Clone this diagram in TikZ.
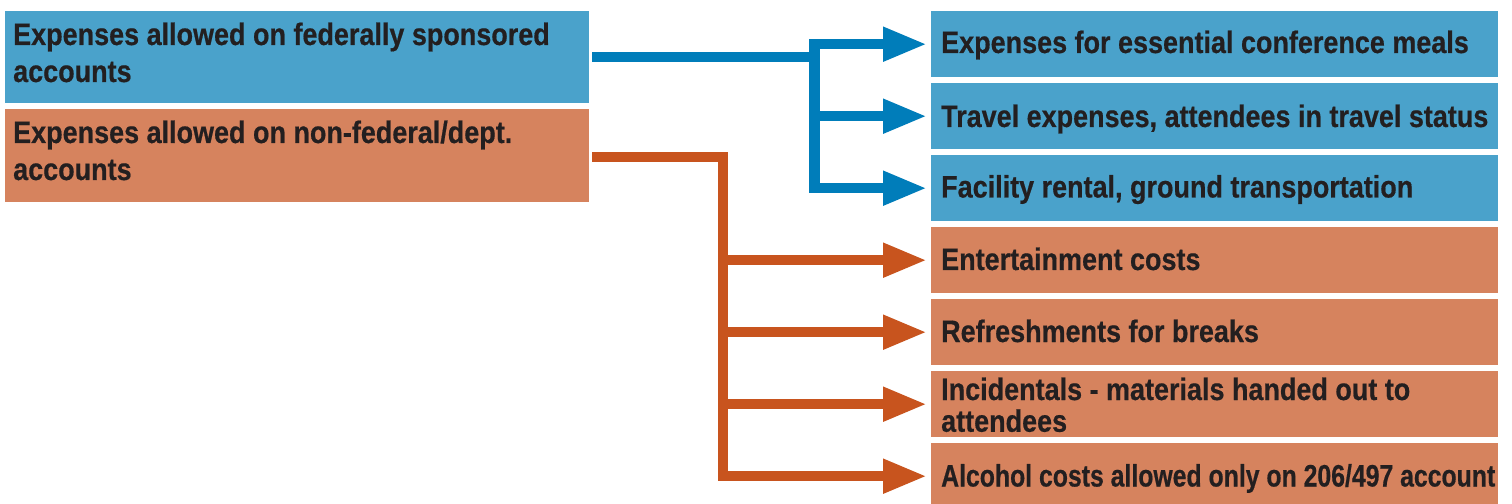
\documentclass[tikz,border=0pt]{standalone}
\usepackage{fontspec}
\setmainfont{Liberation Sans}
\newfontfamily\condfont{Liberation Sans}[FakeStretch=0.87, FakeBold=0.5]
\newfontfamily\narrowfont{Liberation Sans}[FakeStretch=0.8, FakeBold=0.5]
\usetikzlibrary{arrows.meta}
\definecolor{boxblue}{HTML}{4AA2CB}
\definecolor{lineblue}{HTML}{007DBA}
\definecolor{boxorange}{HTML}{D6835E}
\definecolor{lineorange}{HTML}{C8541E}
\definecolor{txt}{HTML}{231F20}
\begin{document}
\begin{tikzpicture}[x=1bp,y=-1bp,
  box/.style={draw=none, inner sep=0, anchor=north west, minimum height=66bp, minimum width=567bp},
  bluebox/.style={box, fill=boxblue},
  orangebox/.style={box, fill=boxorange},
  lbl/.style={anchor=base west, inner sep=0, text=txt, font=\condfont\bfseries\fontsize{31bp}{37bp}\selectfont},
  conn/.style={line width=10.5bp, line join=miter, line cap=butt},
  tip/.style={-{Triangle[length=44bp,width=32bp]}, shorten >=4bp},
  tips/.style={{Triangle[length=44bp,width=32bp]}-{Triangle[length=44bp,width=32bp]}, shorten <=4bp, shorten >=4bp},
]
\useasboundingbox (0,0) rectangle (1512,504);
\fill[white] (0,0) rectangle (1512,504);
\clip (0,0) rectangle (1512,504);

% boxes
\node[bluebox, minimum width=584bp, minimum height=92bp] (b1) at (5,11) {};
\node[orangebox, minimum width=584bp, minimum height=93bp] (o1) at (5,109) {};
\node[bluebox] (r1) at (931,11) {};
\node[bluebox] (r2) at (931,83) {};
\node[bluebox] (r3) at (931,155) {};
\node[orangebox] (r4) at (931,227) {};
\node[orangebox] (r5) at (931,299) {};
\node[orangebox] (r6) at (931,371) {};
\node[orangebox] (r7) at (931,443) {};

% texts
\node[lbl] (tb1) at (13,45) {\begin{tabular}[t]{@{}l@{}}Expenses allowed on federally sponsored\\accounts\end{tabular}};
\node[lbl] (to1) at (13,143) {\begin{tabular}[t]{@{}l@{}}Expenses allowed on non-federal/dept.\\accounts\end{tabular}};
\node[lbl] (t1) at (941,53) {Expenses for essential conference meals};
\node[lbl] (t2) at (941,127) {Travel expenses, attendees in travel status};
\node[lbl] (t3) at (941,197.5) {Facility rental, ground transportation};
\node[lbl] (t4) at (941,270) {Entertainment costs};
\node[lbl] (t5) at (941,342) {Refreshments for breaks};
\node[lbl, font=\condfont\bfseries\fontsize{31bp}{31bp}\selectfont] (t6) at (941,400) {\begin{tabular}[t]{@{}l@{}}Incidentals - materials handed out to\\attendees\end{tabular}};
\node[lbl, font=\narrowfont\bfseries\fontsize{31bp}{37bp}\selectfont] (t7) at (941,486.5) {Alcohol costs allowed only on 206/497 account};

% connectors
\coordinate (bx) at (814.5,0);
\coordinate (ox) at (723,0);
\draw[conn, lineblue, shorten <=3bp] (b1.east) -- (bx |- b1.east);
\draw[conn, lineblue, tips] (r1.west) -- (bx |- r1.west) -- (bx |- r3.west) -- (r3.west);
\draw[conn, lineblue, tip] (bx |- r2.west) -- (r2.west);

\coordinate (os) at ([yshift=-1.5bp]o1.east);
\draw[conn, lineorange, tip, shorten <=3bp] (os) -- (ox |- os) -- (ox |- r7.west) -- (r7.west);
\draw[conn, lineorange, tip] (ox |- r4.west) -- (r4.west);
\draw[conn, lineorange, tip] (ox |- r5.west) -- (r5.west);
\draw[conn, lineorange, tip] (ox |- r6.west) -- (r6.west);
\end{tikzpicture}
\end{document}
